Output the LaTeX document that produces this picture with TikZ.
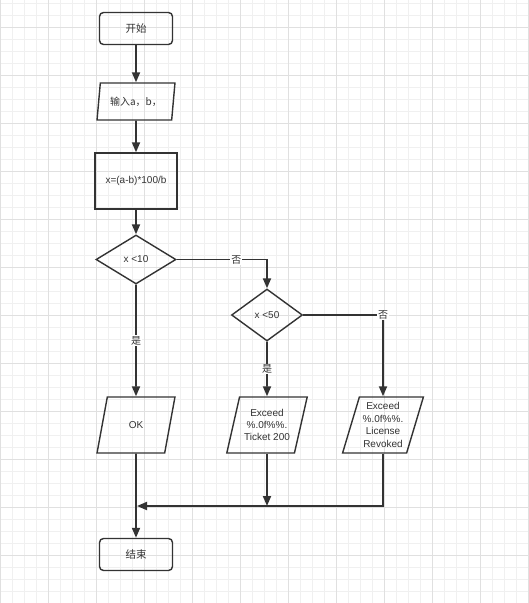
\documentclass[tikz,border=0pt]{standalone}
\usepackage{fontspec}
\setmainfont{Liberation Sans}
\newfontfamily\cjk{Noto Sans CJK SC}
\usepackage{tikz}
\usetikzlibrary{arrows.meta,shapes.geometric}
\definecolor{ink}{RGB}{51,51,51}
\definecolor{gridlo}{RGB}{240,240,240}
\definecolor{gridhi}{RGB}{224,224,224}
\tikzset{
  fterm/.style={draw=ink,line width=1.4pt,rounded corners=4pt,text=ink,
    minimum width=73pt,minimum height=32pt,font=\cjk\fontsize{10.5}{12}\selectfont},
  fproc/.style={draw=ink,line width=1.4pt,text=ink,minimum width=82pt,
    minimum height=56pt,font=\fontsize{10}{12}\selectfont},
  fdec/.style={draw=ink,line width=1.4pt,diamond,inner sep=0pt,text=ink,
    font=\fontsize{10}{12}\selectfont},
  fio/.style={draw=ink,line width=1.4pt,trapezium,trapezium stretches=true,
    inner sep=1pt,text=ink,align=center,font=\fontsize{10}{12.4}\selectfont},
  fline/.style={ink,line width=1.8pt,-{Triangle[length=10pt,width=8pt]}},
  flabel/.style={fill=white,text=ink,inner sep=1pt,font=\cjk\fontsize{10}{12}\selectfont},
}
\begin{document}
\begin{tikzpicture}[x=1pt,y=-1pt]
  \useasboundingbox (0,0) rectangle (528,603);
  \fill[white] (0,0) rectangle (528,603);
  % background grid
  \foreach \x in {0,12,...,528} \draw[gridlo,line width=0.5pt] (\x,0) -- (\x,603);
  \foreach \y in {3,15,...,603} \draw[gridlo,line width=0.5pt] (0,\y) -- (528,\y);
  \foreach \x in {0,48,...,528} \draw[gridhi,line width=0.6pt] (\x,0) -- (\x,603);
  \foreach \y in {27,75,...,603} \draw[gridhi,line width=0.6pt] (0,\y) -- (528,\y);
  % nodes
  \node[fterm] (start) at (136,28.5) {开始};
  \node[fio,minimum width=78pt,minimum height=37pt,trapezium left angle=77.8,
    trapezium right angle=102.2] (input) at (136,101.5) {\cjk 输入a，b，};
  \node[fproc] (calc) at (136,181) {x=(a-b)*100/b};
  \node[fdec,minimum width=80pt,minimum height=49pt] (dec1) at (136,259.5) {x <10};
  \node[fdec,minimum width=71pt,minimum height=52pt] (dec2) at (267,315) {x <50};
  \node[fio,minimum width=78pt,minimum height=56pt,trapezium left angle=72,
    trapezium right angle=108] (ok) at (136,425) {OK};
  \node[fio,minimum width=81pt,minimum height=56pt,trapezium left angle=72,
    trapezium right angle=108] (fine) at (267,425) {Exceed\\ \%.0f\%\%.\\ Ticket 200};
  \node[fio,minimum width=81pt,minimum height=56pt,trapezium left angle=72,
    trapezium right angle=108] (revoke) at (383,425) {Exceed\\ \%.0f\%\%.\\ License\\ Revoked};
  \node[fterm] (stop) at (136,554.5) {结束};
  \coordinate (join) at (136,506);
  % connectors
  \draw[fline] (start.south) -- (input.north);
  \draw[fline] (input.south) -- (calc.north);
  \draw[fline] (calc.south) -- (dec1.north);
  \draw[fline] (dec1.east) -| node[flabel,pos=0.33] {否} (dec2.north);
  \draw[fline] (dec1.south) -- node[flabel] {是} (ok.north);
  \draw[fline] (dec2.east) -| node[flabel,pos=0.5] {否} (revoke.north);
  \draw[fline] (dec2.south) -- node[flabel] {是} (fine.north);
  \draw[fline] (ok.south) -- (stop.north);
  \draw[fline] (fine.south) -- (fine.south |- join);
  \draw[fline,shorten >=1pt] (revoke.south) |- (join);
\end{tikzpicture}
\end{document}
